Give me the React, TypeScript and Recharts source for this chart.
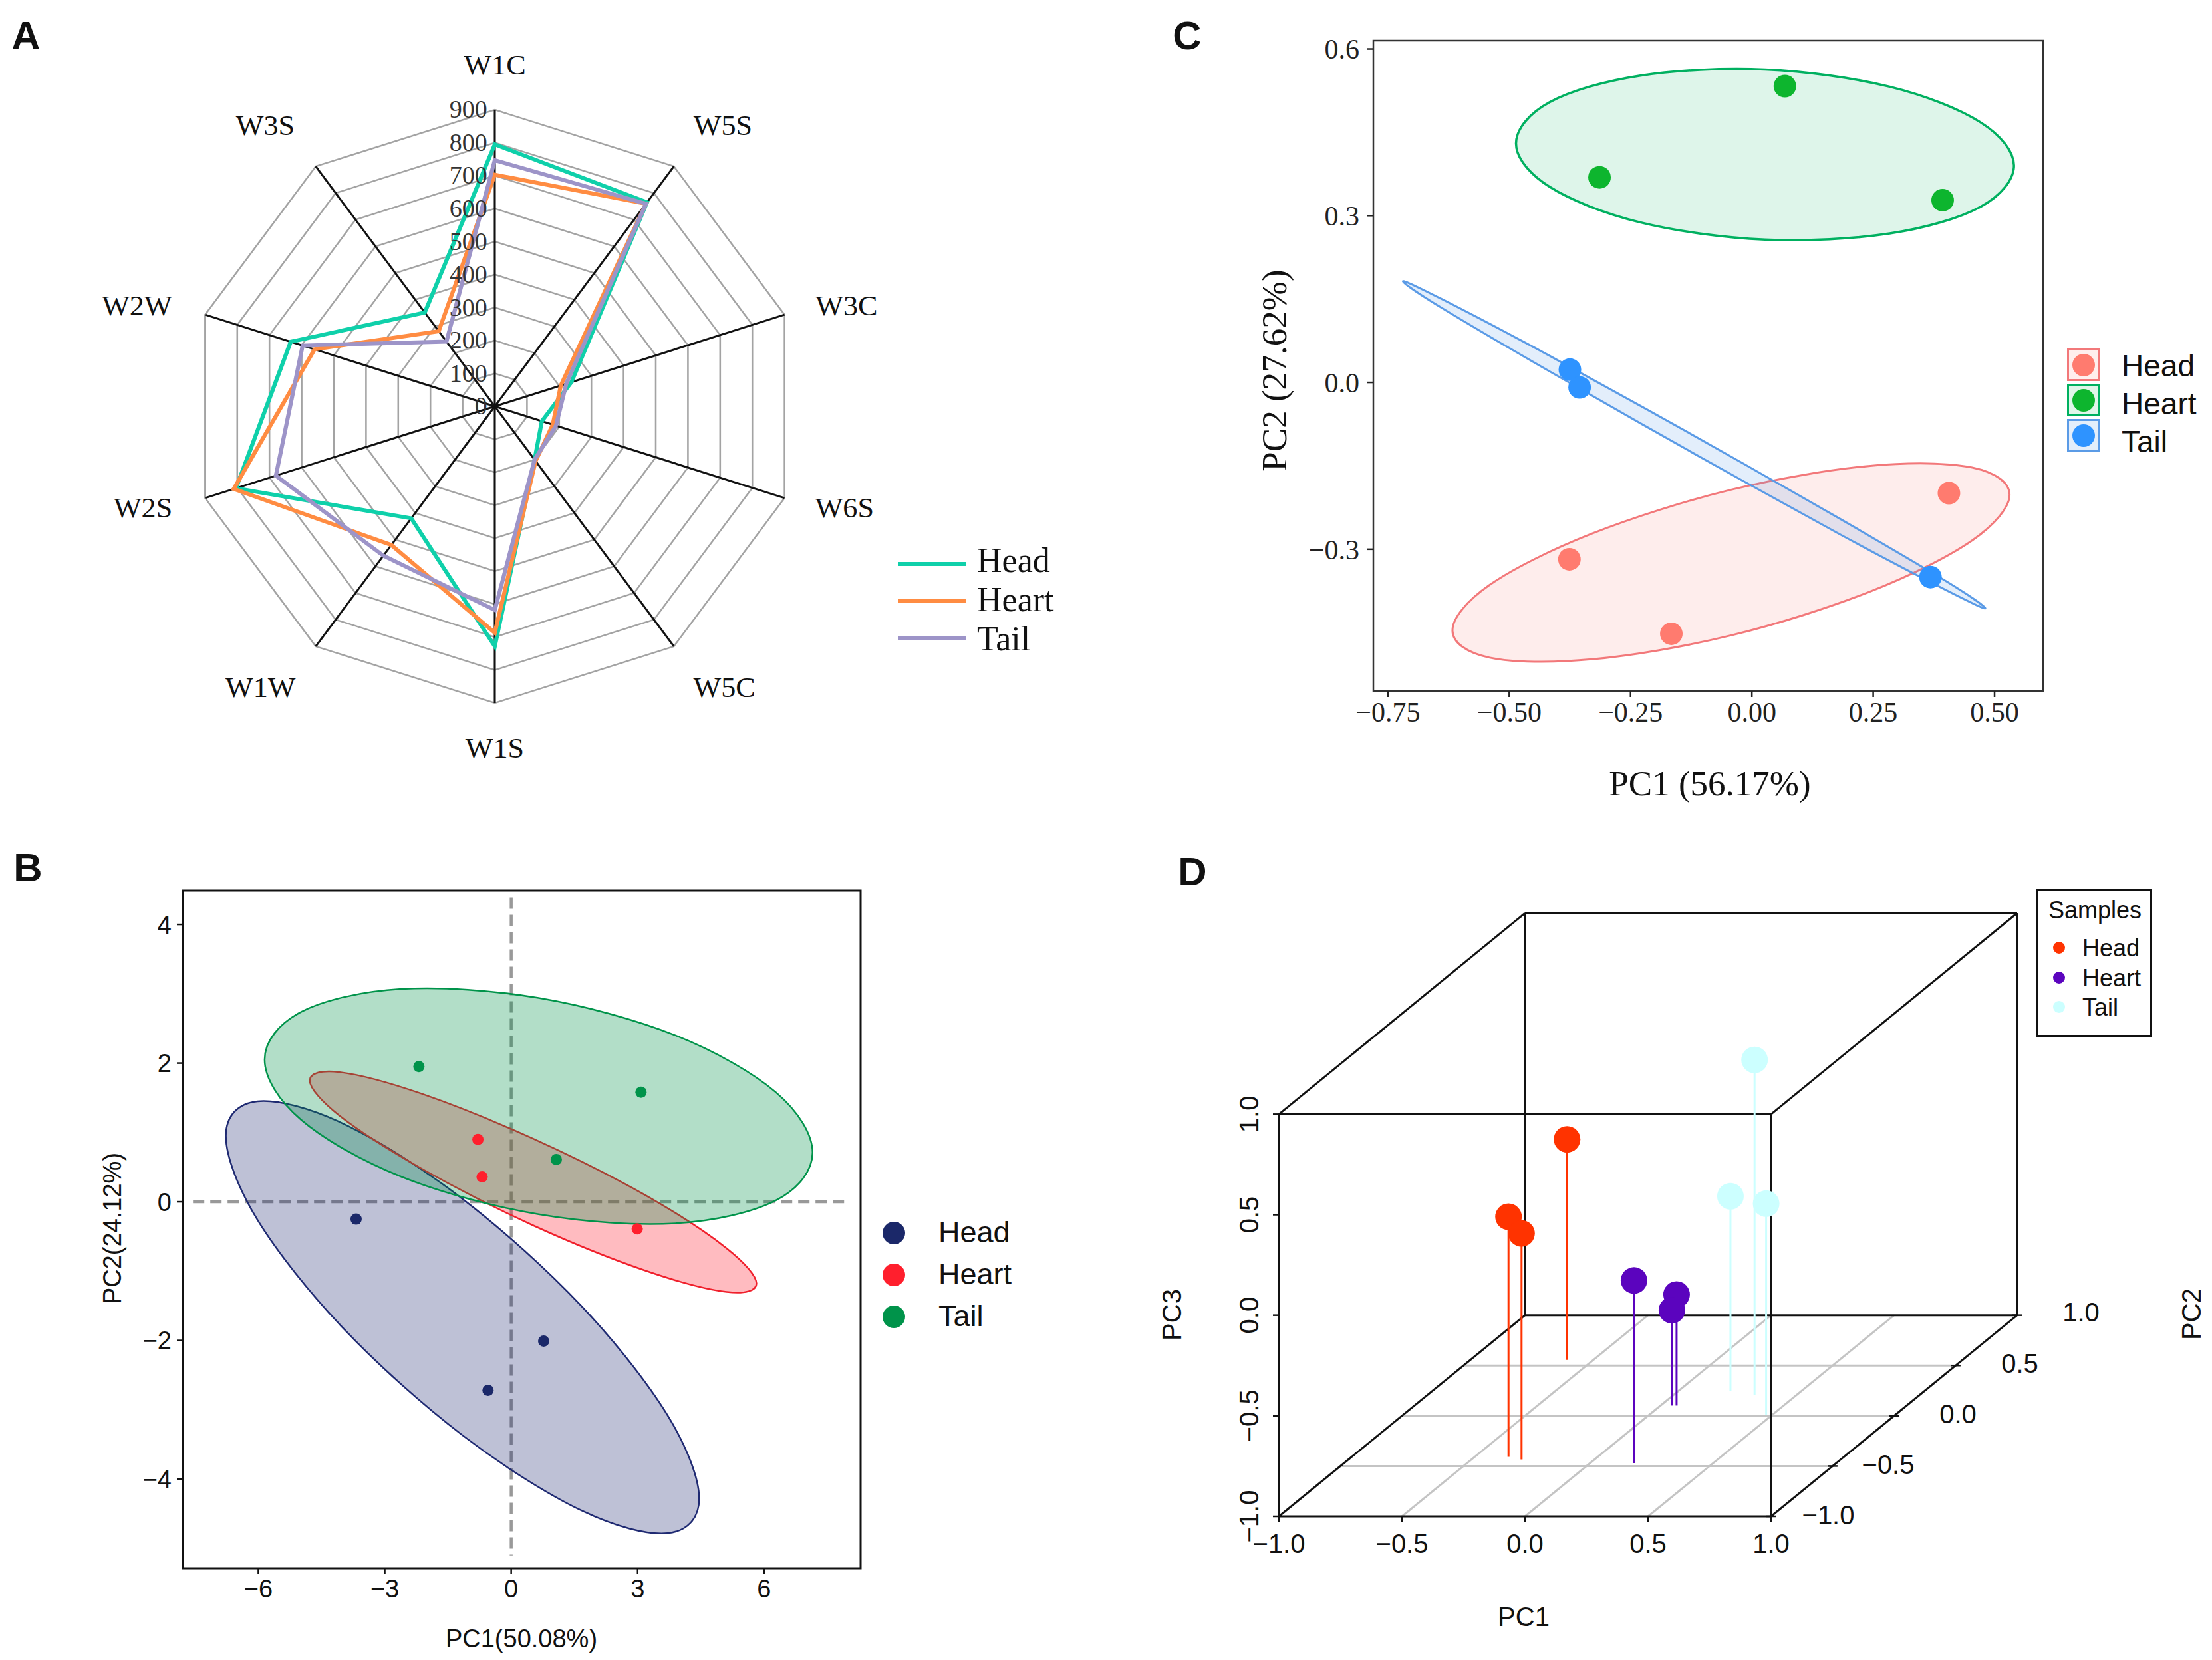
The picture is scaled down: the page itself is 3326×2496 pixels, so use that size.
import React from "react";
import {
  RadarChart,
  Radar,
  PolarGrid,
  PolarAngleAxis,
  PolarRadiusAxis,
  ScatterChart,
  Scatter,
  XAxis,
  YAxis,
  ReferenceLine,
  ReferenceArea,
} from "recharts";

const SERIF = "'Liberation Serif', serif";
const SANS = "'Liberation Sans', sans-serif";

// --- panel A
const spokes = ["W1C", "W5S", "W3C", "W6S", "W5C", "W1S", "W1W", "W2S", "W2W", "W3S"];
const headSmell = [795, 765, 238, 146, 200, 728, 420, 804, 634, 352];
const heartSmell = [703, 760, 205, 180, 205, 687, 520, 811, 560, 282];
const tailSmell = [747, 760, 222, 190, 200, 618, 560, 680, 597, 243];
const radarTicks = [0, 100, 200, 300, 400, 500, 600, 700, 800, 900];
const radarRows = spokes.map((name, i) => ({
  name,
  Head: headSmell[i],
  Heart: heartSmell[i],
  Tail: tailSmell[i],
}));
// label offsets from the radar centre, per spoke
const spokeLabelX = [0, 334, 515, 512, 336, 0, -343, -515, -524, -336];
const spokeLabelY = [-514, -423, -152, 152, 422, 513, 422, 152, -152, -423];

// --- panel B
const bXTicks = [-6, -3, 0, 3, 6];
const bYTicks = [-4, -2, 0, 2, 4];
const bHeadDots = [[-3.68, -0.25], [0.77, -2.01], [-0.55, -2.72]];
const bHeartDots = [[-0.79, 0.9], [-0.69, 0.36], [2.99, -0.39]];
const bTailDots = [[-2.19, 1.95], [3.08, 1.58], [1.07, 0.61]];
const bHeadRing = [[4.46, -4.28], [3.71, -3.08], [1.66, -1.5], [-1.15, 0.04], [-3.96, 1.12], [-6.02, 1.45], [-6.77, 0.95], [-6.02, -0.26], [-3.96, -1.84], [-1.15, -3.37], [1.66, -4.45], [3.71, -4.78]];
const bHeartRing = [[5.82, -1.18], [5.11, -0.67], [3.17, 0.1], [0.52, 0.91], [-2.13, 1.56], [-4.07, 1.87], [-4.78, 1.75], [-4.07, 1.24], [-2.13, 0.48], [0.52, -0.34], [3.17, -0.99], [5.11, -1.3]];
const bTailRing = [[7.15, 0.71], [6.28, 1.58], [3.9, 2.4], [0.65, 2.94], [-2.6, 3.07], [-4.98, 2.74], [-5.85, 2.05], [-4.98, 1.18], [-2.6, 0.36], [0.65, -0.18], [3.9, -0.31], [6.28, 0.02]];

// --- panel C
const cXTicks = [-0.75, -0.5, -0.25, 0, 0.25, 0.5];
const cYTicks = [-0.3, 0, 0.3, 0.6];
const cHeadDots = [[0.406, -0.199], [-0.376, -0.318], [-0.166, -0.452]];
const cHeartDots = [[-0.314, 0.369], [0.068, 0.533], [0.393, 0.328]];
const cTailDots = [[-0.375, 0.023], [-0.355, -0.009], [0.368, -0.35]];
const cHeadRing = [[0.531, -0.202], [0.454, -0.153], [0.244, -0.15], [-0.043, -0.193], [-0.33, -0.272], [-0.54, -0.364], [-0.617, -0.446], [-0.54, -0.495], [-0.33, -0.498], [-0.043, -0.455], [0.244, -0.376], [0.454, -0.284]];
const cHeartRing = [[0.54, 0.39], [0.471, 0.468], [0.284, 0.532], [0.027, 0.563], [-0.23, 0.552], [-0.417, 0.504], [-0.486, 0.43], [-0.417, 0.352], [-0.23, 0.288], [0.027, 0.257], [0.284, 0.268], [0.471, 0.316]];
const cTailRing = [[0.481, -0.406], [0.401, -0.358], [0.181, -0.245], [-0.119, -0.096], [-0.419, 0.049], [-0.639, 0.15], [-0.719, 0.182], [-0.639, 0.134], [-0.419, 0.021], [-0.119, -0.128], [0.181, -0.273], [0.401, -0.374]];

// --- panel D, in the plane of the drawing (PC2 pushes a point up and right)
const dTicks = [-1, -0.5, 0, 0.5, 1];
const dHeadDots = [[0.171, 0.875], [-0.067, 0.49], [-0.014, 0.407]];
const dHeadFloor = [-0.222, -0.704, -0.717];
const dHeartDots = [[0.443, 0.173], [0.616, 0.103], [0.597, 0.025]];
const dHeartFloor = [-0.735, -0.449, -0.449];
const dTailDots = [[0.933, 1.27], [0.835, 0.592], [0.98, 0.555]];
const dTailFloor = [-0.397, -0.378, -0.495];
const dBoxEdges = [
  [[-1, -1], [1, -1]], [[1, -1], [1, 1]], [[1, 1], [-1, 1]], [[-1, 1], [-1, -1]],
  [[0, 0], [2, 0]], [[2, 0], [2, 2]], [[2, 2], [0, 2]], [[0, 2], [0, 0]],
  [[-1, -1], [0, 0]], [[1, -1], [2, 0]], [[1, 1], [2, 2]], [[-1, 1], [0, 2]],
];
const dFloorLines = [
  [[-0.25, -0.25], [1.75, -0.25]], [[-0.5, -0.5], [1.5, -0.5]], [[-0.75, -0.75], [1.25, -0.75]],
  [[-0.5, -1], [0.5, 0]], [[0, -1], [1, 0]], [[0.5, -1], [1.5, 0]],
];
const dDepthTicks = [[1.25, -0.75], [1.5, -0.5], [1.75, -0.25], [1, -1], [2, 0]];
const dDepthLabels = ["−0.5", "0.0", "0.5", "−1.0", "1.0"];
const dDepthLabelX = [2839, 2944, 3037, 2749, 3129];
const dDepthLabelY = [2202, 2126, 2050, 2278, 1973];

const toXY = (pairs: number[][]) => pairs.map(([x, y]) => ({ x, y }));
const minus = (s: string) => s.replace("-", "−");

// smooth closed outline through the ring points
function closedPath(pts: { x: number; y: number }[]) {
  const n = pts.length;
  let d = `M${pts[0].x},${pts[0].y}`;
  for (let i = 0; i < n; i++) {
    const a = pts[(i + n - 1) % n];
    const b = pts[i];
    const c = pts[(i + 1) % n];
    const e = pts[(i + 2) % n];
    d += `C${b.x + (c.x - a.x) / 6},${b.y + (c.y - a.y) / 6} ${c.x - (e.x - b.x) / 6},${c.y - (e.y - b.y) / 6} ${c.x},${c.y}`;
  }
  return d + "Z";
}

const ringLine = (stroke: string, fill: string, opacity: number, width: number) => (props: any) => (
  <path d={closedPath(props.points)} fill={fill} fillOpacity={opacity} stroke={stroke} strokeWidth={width} />
);
const noMark = () => <g />;
const dot = (r: number, fill: string) => (props: any) => <circle cx={props.cx} cy={props.cy} r={r} fill={fill} />;

function Txt({ x, y, size, font, rotate = 0, weight = 400, children }: any) {
  return (
    <div
      style={{
        position: "absolute",
        left: x,
        top: y,
        fontSize: size,
        fontFamily: font,
        fontWeight: weight,
        color: "#111",
        whiteSpace: "nowrap",
        lineHeight: 1,
        transform: `translate(-50%,-50%) rotate(${rotate}deg)`,
      }}
    >
      {children}
    </div>
  );
}

function Left({ x, y, size, font, children }: any) {
  return (
    <div style={{ position: "absolute", left: x, top: y, fontSize: size, fontFamily: font, color: "#111", lineHeight: 1, transform: "translateY(-50%)" }}>
      {children}
    </div>
  );
}

function Disc({ x, y, r, color }: any) {
  return <div style={{ position: "absolute", left: x - r, top: y - r, width: 2 * r, height: 2 * r, borderRadius: "50%", background: color }} />;
}

function SpokeLabel(props: any) {
  const i = spokes.indexOf(props.payload.value);
  return (
    <text x={600 + spokeLabelX[i]} y={600 + spokeLabelY[i]} textAnchor="middle" dominantBaseline="central" fontFamily={SERIF} fontSize={43} fill="#111">
      {props.payload.value}
    </text>
  );
}

function RingLabel(props: any) {
  return (
    <text x={589} y={props.y} textAnchor="end" dominantBaseline="central" fontFamily={SERIF} fontSize={37} fill="#333">
      {props.payload.value}
    </text>
  );
}

function PanelA() {
  return (
    <div style={{ position: "absolute", left: 144, top: 11, transform: "scaleX(1.027)" }}>
      <RadarChart width={1200} height={1200} cx={600} cy={600} outerRadius={446} data={radarRows}>
        <PolarGrid gridType="polygon" radialLines={false} stroke="#a3a3a3" strokeWidth={2.5} />
        <PolarGrid gridType="polygon" polarRadius={[]} stroke="#111" strokeWidth={3} />
        <PolarAngleAxis dataKey="name" tick={SpokeLabel} tickLine={false} axisLine={false} />
        <PolarRadiusAxis
          angle={90}
          domain={[0, 900]}
          ticks={radarTicks as any}
          tickCount={10}
          orientation="left"
          axisLine={false}
          tickLine={false}
          tick={RingLabel}
        />
        <Radar dataKey="Head" stroke="#0fd0aa" strokeWidth={6} fill="none" isAnimationActive={false} />
        <Radar dataKey="Heart" stroke="#ff8c42" strokeWidth={6} fill="none" isAnimationActive={false} />
        <Radar dataKey="Tail" stroke="#9d94c8" strokeWidth={6} fill="none" isAnimationActive={false} />
      </RadarChart>
    </div>
  );
}

function PanelB() {
  const tick = { fontFamily: SANS, fontSize: 38, fill: "#111" };
  const line = { stroke: "#111", strokeWidth: 2.5 };
  return (
    <div style={{ position: "absolute", left: 100, top: 1300 }}>
      <ScatterChart width={1250} height={1160} margin={{ left: 0, top: 39, right: 56, bottom: 2 }}>
        <XAxis type="number" dataKey="x" domain={[-7.79, 8.29]} ticks={bXTicks} height={100} tick={tick} tickLine={line} axisLine={false} tickSize={9} tickMargin={8} tickFormatter={(v) => minus(String(v))} allowDataOverflow />
        <YAxis type="number" dataKey="y" domain={[-5.285, 4.49]} ticks={bYTicks} width={175} tick={tick} tickLine={line} axisLine={false} tickSize={9} tickMargin={8} tickFormatter={(v) => minus(String(v))} allowDataOverflow />
        <ReferenceArea x1={-7.79} x2={8.29} y1={-5.285} y2={4.49} fill="none" stroke="#111" strokeWidth={3} ifOverflow="visible" />
        <Scatter data={toXY(bHeadRing)} shape={noMark} line={ringLine("#1f2a72", "#1f2a72", 0.29, 2.5)} isAnimationActive={false} />
        <Scatter data={toXY(bHeartRing)} shape={noMark} line={ringLine("#f0202c", "#ff1f2d", 0.3, 2.5)} isAnimationActive={false} />
        <Scatter data={toXY(bTailRing)} shape={noMark} line={ringLine("#00934a", "#00934a", 0.3, 2.5)} isAnimationActive={false} />
        <ReferenceLine segment={[{ x: -7.55, y: 0 }, { x: 7.95, y: 0 }]} stroke="#999" strokeWidth={4.5} strokeDasharray="17 9" />
        <ReferenceLine segment={[{ x: 0, y: 4.39 }, { x: 0, y: -5.1 }]} stroke="#999" strokeWidth={4.5} strokeDasharray="17 9" />
        <Scatter data={toXY(bHeadDots)} shape={dot(8.5, "#1b2869")} isAnimationActive={false} />
        <Scatter data={toXY(bHeartDots)} shape={dot(8.5, "#ff1f2d")} isAnimationActive={false} />
        <Scatter data={toXY(bTailDots)} shape={dot(8.5, "#00934a")} isAnimationActive={false} />
      </ScatterChart>
    </div>
  );
}

function PanelC() {
  const tick = { fontFamily: SERIF, fontSize: 42, fill: "#222" };
  const line = { stroke: "#222", strokeWidth: 2.5 };
  return (
    <div style={{ position: "absolute", left: 1950, top: 20 }}>
      <ScatterChart width={1200} height={1100} margin={{ left: 0, top: 41, right: 78, bottom: 11 }}>
        <XAxis type="number" dataKey="x" domain={[-0.78, 0.6]} ticks={cXTicks} height={70} tick={tick} tickLine={line} axisLine={false} tickSize={9} tickMargin={7} tickFormatter={(v) => minus(v.toFixed(2))} allowDataOverflow />
        <YAxis type="number" dataKey="y" domain={[-0.555, 0.615]} ticks={cYTicks} width={115} tick={tick} tickLine={line} axisLine={false} tickSize={9} tickMargin={12} tickFormatter={(v) => minus(v.toFixed(1))} allowDataOverflow />
        <ReferenceArea x1={-0.78} x2={0.6} y1={-0.555} y2={0.615} fill="none" stroke="#333" strokeWidth={2.5} ifOverflow="visible" />
        <Scatter data={toXY(cHeadRing)} shape={noMark} line={ringLine("#f2787a", "#f8766d", 0.13, 3)} isAnimationActive={false} />
        <Scatter data={toXY(cHeartRing)} shape={noMark} line={ringLine("#00b060", "#00b060", 0.13, 3.5)} isAnimationActive={false} />
        <Scatter data={toXY(cTailRing)} shape={noMark} line={ringLine("#5b9be6", "#5b9be6", 0.17, 3)} isAnimationActive={false} />
        <Scatter data={toXY(cHeadDots)} shape={dot(17, "#ff7b6f")} isAnimationActive={false} />
        <Scatter data={toXY(cHeartDots)} shape={dot(17, "#0db52e")} isAnimationActive={false} />
        <Scatter data={toXY(cTailDots)} shape={dot(17, "#2e93ff")} isAnimationActive={false} />
      </ScatterChart>
    </div>
  );
}

function RotatedTick(props: any) {
  const { x, y, payload } = props;
  return (
    <text transform={`rotate(-90,${x - 34},${y})`} x={x - 34} y={y} textAnchor="middle" dominantBaseline="central" fontFamily={SANS} fontSize={40} fill="#111">
      {minus(payload.value.toFixed(1))}
    </text>
  );
}

const stems = (dots: number[][], floor: number[], color: string) =>
  dots.map(([x, y], i) => (
    <ReferenceLine key={`${color}${i}`} segment={[{ x, y }, { x, y: floor[i] }]} stroke={color} strokeWidth={3} />
  ));

function PanelD() {
  const line = { stroke: "#111", strokeWidth: 2.5 };
  return (
    <div style={{ position: "absolute", left: 1800, top: 1340 }}>
      <ScatterChart width={1300} height={1027} margin={{ left: 0, top: 33, right: 67, bottom: 7 }}>
        <XAxis type="number" dataKey="x" domain={[-1, 2]} ticks={dTicks} height={80} tick={{ fontFamily: SANS, fontSize: 40, fill: "#111" }} tickLine={line} axisLine={false} tickSize={9} tickMargin={18} tickFormatter={(v) => minus(v.toFixed(1))} allowDataOverflow />
        <YAxis type="number" dataKey="y" domain={[-1, 2]} ticks={dTicks} width={123} tick={RotatedTick} tickLine={line} axisLine={false} tickSize={9} allowDataOverflow />
        {dFloorLines.map(([a, b], i) => (
          <ReferenceLine key={`f${i}`} segment={[{ x: a[0], y: a[1] }, { x: b[0], y: b[1] }]} stroke="#c4c4c4" strokeWidth={3} />
        ))}
        {dBoxEdges.map(([a, b], i) => (
          <ReferenceLine key={`b${i}`} segment={[{ x: a[0], y: a[1] }, { x: b[0], y: b[1] }]} stroke="#111" strokeWidth={3} />
        ))}
        {dDepthTicks.map(([x, y], i) => (
          <ReferenceLine key={`t${i}`} segment={[{ x: x - 0.02, y }, { x: x + 0.02, y }]} stroke="#111" strokeWidth={2.5} ifOverflow="visible" />
        ))}
        {stems(dHeadDots, dHeadFloor, "#ff3300")}
        {stems(dHeartDots, dHeartFloor, "#5b04be")}
        {stems(dTailDots, dTailFloor, "#ccffff")}
        <Scatter data={toXY(dHeadDots)} shape={dot(20, "#ff3300")} isAnimationActive={false} />
        <Scatter data={toXY(dHeartDots)} shape={dot(20, "#5b04be")} isAnimationActive={false} />
        <Scatter data={toXY(dTailDots)} shape={dot(20, "#ccffff")} isAnimationActive={false} />
      </ScatterChart>
    </div>
  );
}

export default function App() {
  return (
    <div style={{ position: "absolute", left: 0, top: 0, width: 3326, height: 2496, background: "#fff", overflow: "hidden" }}>
      <Txt x={39} y={54} size={60} font={SANS} weight={700}>A</Txt>
      <Txt x={42} y={1305} size={60} font={SANS} weight={700}>B</Txt>
      <Txt x={1785} y={54} size={60} font={SANS} weight={700}>C</Txt>
      <Txt x={1793} y={1311} size={60} font={SANS} weight={700}>D</Txt>

      <PanelA />
      {["#0fd0aa", "#ff8c42", "#9d94c8"].map((c, i) => (
        <div key={c} style={{ position: "absolute", left: 1350, top: [845, 900, 956][i], width: 102, height: 6, background: c }} />
      ))}
      {["Head", "Heart", "Tail"].map((s, i) => (
        <Left key={s} x={1469} y={[843, 902, 961][i]} size={52} font={SERIF}>{s}</Left>
      ))}

      <PanelB />
      <Txt x={784} y={2464} size={38} font={SANS}>PC1(50.08%)</Txt>
      <Txt x={169} y={1847} size={38} font={SANS} rotate={-90}>PC2(24.12%)</Txt>
      {["#1b2869", "#ff1f2d", "#00934a"].map((c, i) => (
        <Disc key={c} x={1344} y={[1854, 1917, 1980][i]} r={17} color={c} />
      ))}
      {["Head", "Heart", "Tail"].map((s, i) => (
        <Left key={s} x={1411} y={[1852, 1915, 1978][i]} size={45} font={SANS}>{s}</Left>
      ))}

      <PanelC />
      <Txt x={2571} y={1178} size={53} font={SERIF}>PC1 (56.17%)</Txt>
      <Txt x={1916} y={557} size={53} font={SERIF} rotate={-90}>PC2 (27.62%)</Txt>
      {[
        ["#f2787a", "#ffeeed", "#ff7b6f", 524],
        ["#00b060", "#e0f6e9", "#0db52e", 577],
        ["#5b9be6", "#e3eefb", "#2e93ff", 630],
      ].map(([edge, bg, c, top]: any) => (
        <React.Fragment key={top}>
          <div style={{ position: "absolute", left: 3108, top, width: 50, height: 49, boxSizing: "border-box", border: `3px solid ${edge}`, background: bg }} />
          <Disc x={3133} y={top + 24.5} r={17} color={c} />
        </React.Fragment>
      ))}
      {["Head", "Heart", "Tail"].map((s, i) => (
        <Left key={s} x={3190} y={[550, 607, 664][i]} size={46} font={SANS}>{s}</Left>
      ))}

      <PanelD />
      <Txt x={2291} y={2431} size={40} font={SANS}>PC1</Txt>
      <Txt x={1762} y={1977} size={40} font={SANS} rotate={-90}>PC3</Txt>
      <Txt x={3295} y={1976} size={40} font={SANS} rotate={-90}>PC2</Txt>
      {dDepthLabels.map((s, i) => (
        <Txt key={s} x={dDepthLabelX[i]} y={dDepthLabelY[i]} size={40} font={SANS}>{s}</Txt>
      ))}
      <div style={{ position: "absolute", left: 3062, top: 1336, width: 174, height: 223, boxSizing: "border-box", border: "3px solid #111" }} />
      <Txt x={3150} y={1369} size={36} font={SANS}>Samples</Txt>
      {["#ff3300", "#5b04be", "#ccffff"].map((c, i) => (
        <Disc key={c} x={3096} y={[1425, 1470, 1514][i]} r={9} color={c} />
      ))}
      {["Head", "Heart", "Tail"].map((s, i) => (
        <Left key={s} x={3131} y={[1426, 1471, 1515][i]} size={36} font={SANS}>{s}</Left>
      ))}
    </div>
  );
}
